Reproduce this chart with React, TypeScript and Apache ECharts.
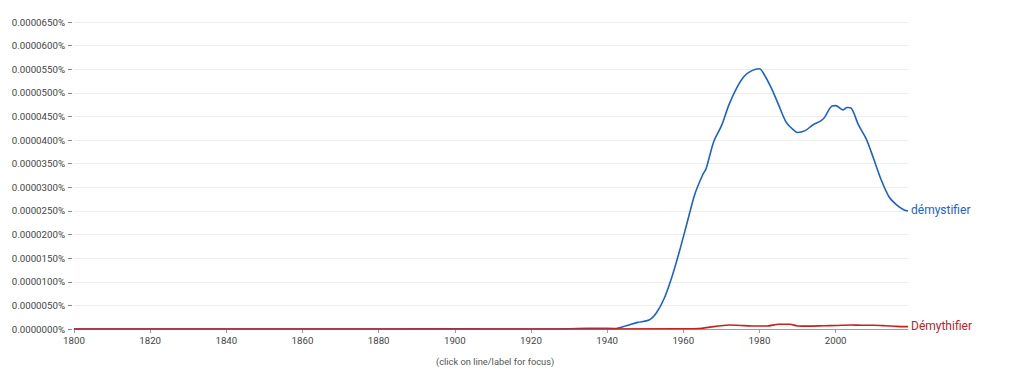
import React, { useEffect, useRef } from "react";
import * as echarts from "echarts";

// values in percent (e.g. 0.0000550 = 0.0000550%)
const blueName = "démystifier";
const blueYears = [1800, 1850, 1900, 1925, 1932, 1938, 1942, 1945, 1948, 1951, 1953, 1955, 1957, 1959, 1961, 1963, 1965, 1966, 1968, 1970, 1972, 1974, 1976, 1978, 1980, 1981, 1983, 1985, 1987, 1989, 1990, 1992, 1994, 1996, 1997, 1999, 2000, 2002, 2003, 2004, 2006, 2008, 2010, 2012, 2014, 2016, 2018, 2019];
const blueValues = [0, 0, 0.3, 0, 1, 1.5, 1, 7, 14, 19, 35, 65, 110, 165, 225, 285, 325, 340, 397, 430, 475, 510, 535, 547, 551, 542, 512, 475, 438, 421, 416, 420, 432, 440, 447, 472, 473, 464, 469, 468, 432, 403, 360, 315, 280, 263, 252, 250].map((v) => v * 1e-7);

const redName = "Démythifier";
const redYears = [1800, 1900, 1960, 1964, 1967, 1970, 1972, 1975, 1978, 1982, 1985, 1988, 1990, 1993, 1997, 2000, 2004, 2007, 2010, 2013, 2016, 2019];
const redValues = [0, 0, 0.5, 1, 4, 7, 8.5, 7.5, 6.5, 6.5, 10, 10, 6.5, 6, 7, 7.5, 8.5, 8, 8, 7, 5.5, 5].map((v) => v * 1e-7);

const yMax = 0.000065;
const yInterval = 0.000005;
const footer = "(click on line/label for focus)";

const BLUE = "#1a62cf";
const RED = "#c4221f";
const FONT = "Roboto, sans-serif";

export default function App() {
  const ref = useRef<HTMLDivElement>(null);
  useEffect(() => {
    if (!ref.current) return;
    const chart = echarts.init(ref.current, null, { renderer: "svg" });
    chart.setOption({
      animation: false,
      textStyle: { fontFamily: FONT },
      grid: { left: 74, right: 116, top: 22, bottom: 47 },
      xAxis: {
        type: "value",
        min: 1800,
        max: 2019,
        interval: 20,
        axisLine: { show: true, lineStyle: { color: "#9e9e9e", width: 1 } },
        axisTick: { show: true, length: 4, lineStyle: { color: "#9e9e9e" } },
        splitLine: { show: false },
        axisLabel: {
          color: "#444",
          fontSize: 9.7,
          fontFamily: FONT,
          margin: 6,
          formatter: (v: number) => (v % 20 === 0 ? String(v) : ""),
          showMaxLabel: false,
        },
      },
      yAxis: {
        type: "value",
        min: 0,
        max: yMax,
        interval: yInterval,
        offset: 2,
        axisLine: { show: false },
        axisTick: { show: true, length: 4, lineStyle: { color: "#888" } },
        splitLine: { show: true, lineStyle: { color: "#eeeeee", width: 1 } },
        axisLabel: {
          color: "#444",
          fontSize: 9.7,
          fontFamily: FONT,
          margin: 7,
          formatter: (v: number) => v.toFixed(7) + "%",
        },
      },
      series: [
        {
          name: blueName,
          type: "line",
          smooth: 0.3,
          showSymbol: false,
          data: blueYears.map((y, i) => [y, blueValues[i]]),
          lineStyle: { color: BLUE, width: 1.6 },
          itemStyle: { color: BLUE },
          endLabel: {
            show: true,
            formatter: blueName,
            color: BLUE,
            fontSize: 12,
            fontFamily: FONT,
            distance: 3,
            offset: [0, -1],
          },
          z: 2,
        },
        {
          name: redName,
          type: "line",
          smooth: 0.3,
          showSymbol: false,
          data: redYears.map((y, i) => [y, redValues[i]]),
          lineStyle: { color: RED, width: 1.6 },
          itemStyle: { color: RED },
          endLabel: {
            show: true,
            formatter: redName,
            color: RED,
            fontSize: 12,
            fontFamily: FONT,
            distance: 3,
            offset: [0, -1],
          },
          z: 3,
        },
      ],
      graphic: [
        {
          type: "text",
          left: 436,
          top: 357,
          style: { text: footer, fill: "#555", fontSize: 9.3, fontFamily: FONT },
        },
      ],
    });
    return () => chart.dispose();
  }, []);
  return <div ref={ref} style={{ width: 1024, height: 376, position: "absolute", left: 0, top: 0 }} />;
}
